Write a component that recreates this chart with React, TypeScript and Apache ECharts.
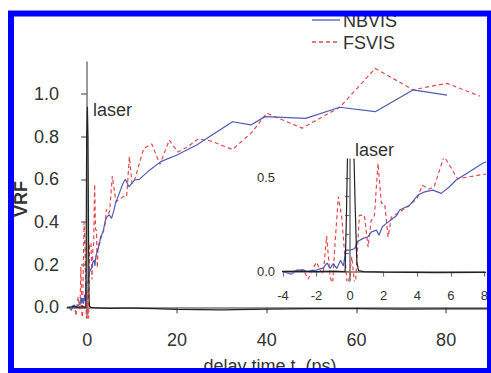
import React, { useEffect, useRef } from "react";
import * as echarts from "echarts";

// [delay time (ps), VRF]
const nbvisData: number[][] = [
  [-4.0, 0.0], [-3.5, -0.014], [-3.2, 0.008], [-2.8, 0.01], [-2.6, 0.0], [-2.3, 0.005],
  [-2.0, 0.008], [-1.6, 0.02], [-1.37, 0.046], [-1.2, 0.017], [-1.0, 0.043], [-0.8, 0.017],
  [-0.57, 0.06], [-0.4, 0.03], [-0.26, 0.114], [0.0, 0.114], [0.28, 0.123], [0.42, 0.159],
  [0.77, 0.177], [1.07, 0.186], [1.27, 0.212], [1.57, 0.221], [1.72, 0.194], [1.92, 0.239],
  [2.16, 0.257], [2.46, 0.278], [2.75, 0.296], [2.95, 0.328], [3.55, 0.354], [4.04, 0.408],
  [4.44, 0.425], [4.93, 0.434], [5.43, 0.417], [5.92, 0.452], [6.32, 0.488], [7.11, 0.532],
  [7.9, 0.577], [8.5, 0.6], [9.3, 0.565], [10.6, 0.597], [11.6, 0.6], [13.9, 0.643],
  [16.4, 0.683], [20.0, 0.714], [24.4, 0.761], [28.0, 0.81], [32.4, 0.87], [36.5, 0.855],
  [39.6, 0.894], [48.7, 0.886], [56.3, 0.938], [64.2, 0.917], [72.6, 1.019], [80.2, 0.995],
];

const fsvisData: number[][] = [
  [-3.0, 0.0], [-2.8, 0.01], [-2.5, -0.04], [-2.2, 0.02], [-2.0, 0.05], [-1.8, 0.01],
  [-1.6, -0.01], [-1.4, 0.19], [-1.2, -0.02], [-1.05, -0.08], [-0.9, 0.15], [-0.7, 0.4],
  [-0.5, 0.29], [-0.35, 0.12], [-0.15, -0.1], [0.1, 0.08], [0.3, -0.1], [0.55, 0.3],
  [0.85, 0.3], [1.07, 0.13], [1.25, 0.27], [1.45, 0.3], [1.66, 0.577], [1.86, 0.365],
  [2.06, 0.36], [2.26, 0.185], [2.46, 0.29], [3.0, 0.32], [3.5, 0.35], [4.0, 0.39],
  [4.3, 0.46], [4.7, 0.44], [5.0, 0.45], [5.6, 0.615], [6.4, 0.495], [8.1, 0.52],
  [8.8, 0.52], [9.4, 0.706], [10.0, 0.58], [10.6, 0.6], [12.6, 0.745], [14.4, 0.766],
  [16.2, 0.67], [18.3, 0.784], [20.2, 0.728], [22.2, 0.75], [24.8, 0.79], [27.5, 0.78],
  [32.4, 0.74], [36.7, 0.82], [40.0, 0.91], [47.9, 0.84], [56.3, 0.938], [64.2, 1.12],
  [72.6, 1.02], [80.2, 1.05], [87.5, 0.99],
];

const laserData: number[][] = [
  [-4.5, 0.0], [-3.0, 0.003], [-2.0, 0.0], [-1.0, 0.003], [-0.3, 0.0], [-0.22, 0.3],
  [-0.12, 0.8], [0.05, 0.94], [0.18, 0.8], [0.3, 0.35], [0.4, 0.05], [0.5, 0.005],
  [0.8, 0.0], [2.0, -0.003], [5.0, -0.005], [8.0, -0.004], [10.0, -0.004], [15.0, -0.006],
  [20.0, -0.01], [30.0, -0.012], [40.0, -0.008], [50.0, -0.006], [60.0, -0.006],
  [70.0, -0.008], [80.0, -0.007], [90.0, -0.007],
];

const mainXTicks = [0, 20, 40, 60, 80];
const mainYTicks = [0, 0.2, 0.4, 0.6, 0.8, 1.0];
const insetYTicks = [0, 0.1, 0.2, 0.3, 0.4, 0.5];
const insetYLabels = [0, 0.5];
const legendNames = ["NBVIS", "FSVIS"];

const FONT = "'Liberation Sans', Arial, Helvetica, sans-serif";
const BLUE = "#4d5cb4";
const RED = "#e5484d";
const BLACK = "#222";
const AXIS = "#777";
const TEXT = "#333";

export default function App() {
  const ref = useRef<HTMLDivElement>(null);
  useEffect(() => {
    if (!ref.current) return;
    const chart = echarts.init(ref.current, null, { renderer: "svg" });
    const axisLine = { show: true, lineStyle: { color: AXIS, width: 1.5 } };
    const mkSeries = (idx: number) => [
      {
        name: "NBVIS", type: "line", xAxisIndex: idx, yAxisIndex: idx, data: nbvisData,
        symbol: "none", showSymbol: false, lineStyle: { color: BLUE, width: 1.2 }, itemStyle: { color: BLUE },
        z: 3,
      },
      {
        name: "FSVIS", type: "line", xAxisIndex: idx, yAxisIndex: idx, data: fsvisData,
        symbol: "none", showSymbol: false, lineStyle: { color: RED, width: 1.2, type: [4, 3] }, itemStyle: { color: RED },
        z: 2,
      },
      {
        name: "laser", type: "line", xAxisIndex: idx, yAxisIndex: idx, data: laserData,
        symbol: "none", showSymbol: false, lineStyle: { color: BLACK, width: 1.2 }, itemStyle: { color: BLACK },
        z: 4,
      },
    ];
    const legendColors = [BLUE, RED];
    const legendDash = [null, [4, 3]];
    const legendGraphics: any[] = [];
    legendNames.forEach((name, i) => {
      const y = 20 + i * 22;
      legendGraphics.push({
        type: "line", z: 50,
        shape: { x1: 312, y1: y, x2: 340, y2: y },
        style: { stroke: legendColors[i], lineWidth: 1.3, lineDash: legendDash[i] || undefined },
      });
      legendGraphics.push({
        type: "text", x: 343, y: y + 1, z: 50,
        style: { text: name, font: `18px ${FONT}`, fill: TEXT, verticalAlign: "middle" },
      });
    });
    chart.setOption({
      animation: false,
      backgroundColor: "#fff",
      textStyle: { fontFamily: FONT },
      grid: [
        { left: 67, top: 62, width: 435, height: 256 },
        { left: 283, top: 159, width: 202, height: 122 },
      ],
      xAxis: [
        {
          type: "value", gridIndex: 0, min: -4.5, max: 90,
          axisLine, splitLine: { show: false },
          axisTick: { show: true, length: 6, lineStyle: { color: AXIS, width: 1.5 }, customValues: mainXTicks },
          axisLabel: { fontSize: 18, color: TEXT, margin: 13, customValues: mainXTicks, fontFamily: FONT },
        },
        {
          type: "value", gridIndex: 1, min: -4, max: 8, interval: 2,
          axisLine, splitLine: { show: false },
          axisTick: { show: true, length: 5, lineStyle: { color: AXIS, width: 1.2 } },
          axisLabel: { fontSize: 13, color: TEXT, margin: 8, fontFamily: FONT },
        },
      ],
      yAxis: [
        {
          type: "value", gridIndex: 0, min: -0.05, max: 1.15,
          axisLine, splitLine: { show: false },
          axisTick: { show: true, length: 6, lineStyle: { color: AXIS, width: 1.5 }, customValues: mainYTicks },
          axisLabel: {
            fontSize: 18, color: TEXT, margin: 8, customValues: mainYTicks, fontFamily: FONT,
            formatter: (v: number) => v.toFixed(1),
          },
        },
        {
          type: "value", gridIndex: 1, min: -0.05, max: 0.6,
          axisLine, splitLine: { show: false },
          axisTick: { show: true, length: 5, lineStyle: { color: AXIS, width: 1.2 }, customValues: insetYTicks },
          axisLabel: {
            fontSize: 13, color: TEXT, margin: 8, customValues: insetYLabels, fontFamily: FONT,
            formatter: (v: number) => v.toFixed(1),
          },
        },
      ],
      series: [...mkSeries(0), ...mkSeries(1)],
      graphic: [
        ...legendGraphics,
        {
          type: "text", x: 93, y: 110, z: 50,
          style: { text: "laser", fill: TEXT, font: `18px ${FONT}`, verticalAlign: "middle" },
        },
        {
          type: "text", x: 355, y: 150, z: 50,
          style: { text: "laser", fill: TEXT, font: `18px ${FONT}`, verticalAlign: "middle" },
        },
        {
          type: "text", x: 20.5, y: 199, rotation: Math.PI / 2, z: 50,
          style: {
            text: "VRF", font: `bold 18px ${FONT}`, fill: TEXT,
            align: "center", verticalAlign: "middle",
          },
        },
        {
          type: "text", x: 270, y: 366, z: 50,
          style: {
            text: "delay time t, (ps)", font: `18px ${FONT}`, fill: TEXT,
            align: "center", verticalAlign: "middle",
          },
        },
        {
          type: "rect", z: 100,
          shape: { x: 11, y: 13.5, width: 479, height: 357.5 },
          style: { fill: "none", stroke: "#0000ff", lineWidth: 6 },
        },
      ],
    });
    return () => chart.dispose();
  }, []);
  return (
    <div
      ref={ref}
      style={{ position: "absolute", left: 0, top: 0, width: 491, height: 373, background: "#fff" }}
    />
  );
}
